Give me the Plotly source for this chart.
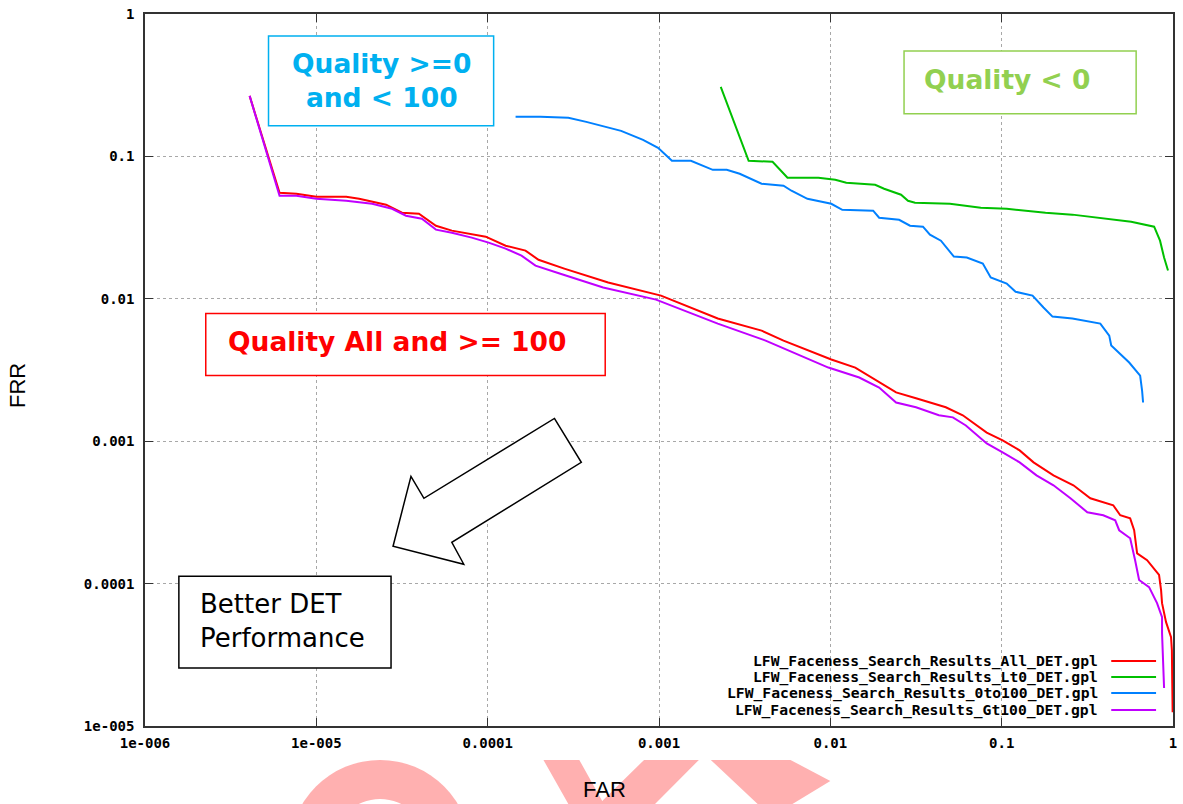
import plotly.graph_objects as go

# ---------------- data ----------------
far_all = [4.08e-6, 6.10e-6, 7.65e-6, 1.0e-5, 1.494e-5, 1.778e-5, 2.553e-5, 3.162e-5, 3.97e-5, 4.99e-5,
           6.18e-5, 9.74e-5, 1.273e-4, 1.663e-4, 1.98e-4, 2.80e-4, 5.05e-4, 1.027e-3, 2.203e-3, 3.97e-3,
           5.33e-3, 1.013e-2, 1.398e-2, 2.006e-2, 2.42e-2, 3.162e-2, 4.72e-2, 5.93e-2, 8.18e-2, 0.1013,
           0.1273, 0.1535, 0.2006, 0.2622, 0.3292, 0.448, 0.492, 0.5623, 0.5933, 0.6175,
           0.706, 0.829, 0.852, 0.863, 0.911, 0.974, 0.985, 0.99, 0.995]
frr_all = [0.266, 0.0556, 0.0547, 0.0521, 0.0521, 0.0504, 0.0458, 0.0402, 0.0396, 0.0326,
           0.0301, 0.0273, 0.0236, 0.0218, 0.0188, 0.0163, 0.0130, 0.01053, 7.27e-3, 5.98e-3,
           5.09e-3, 3.75e-3, 3.29e-3, 2.54e-3, 2.20e-3, 2.00e-3, 1.73e-3, 1.52e-3, 1.15e-3, 1.013e-3,
           8.62e-4, 7.10e-4, 5.76e-4, 4.90e-4, 3.97e-4, 3.55e-4, 3.02e-4, 2.87e-4, 2.37e-4, 1.63e-4,
           1.46e-4, 1.15e-4, 8.99e-5, 7.29e-5, 5.36e-5, 4.21e-5, 3.41e-5, 2.0e-5, 1.25e-5]

far_lt0 = [2.293e-3, 3.336e-3, 4.60e-3, 5.623e-3, 8.52e-3, 1.069e-2, 1.239e-2, 1.826e-2, 2.06e-2, 2.587e-2,
           2.84e-2, 3.12e-2, 4.99e-2, 7.55e-2, 0.107, 0.1803, 0.2587, 0.4134, 0.570, 0.776,
           0.840, 0.887, 0.935]
frr_lt0 = [0.308, 0.0931, 0.0917, 0.0708, 0.0708, 0.0685, 0.0653, 0.0632, 0.0593, 0.0538,
           0.0488, 0.0473, 0.0465, 0.0436, 0.0429, 0.0402, 0.0390, 0.0365, 0.0348, 0.0321,
           0.0256, 0.0195, 0.0158]

far_0to100 = [1.455e-4, 2.033e-4, 2.958e-4, 3.764e-4, 6.01e-4, 8.07e-4, 9.87e-4, 1.19e-3, 1.535e-3, 2.06e-3,
              2.485e-3, 2.958e-3, 3.97e-3, 5.33e-3, 5.93e-3, 7.35e-3, 1.013e-2, 1.174e-2, 1.778e-2, 1.927e-2,
              2.52e-2, 2.918e-2, 3.473e-2, 3.814e-2, 4.42e-2, 5.26e-2, 6.26e-2, 7.76e-2, 8.63e-2, 0.107,
              0.1206, 0.1514, 0.1754, 0.198, 0.2587, 0.3764, 0.4245, 0.436, 0.555, 0.643,
              0.660, 0.669]
frr_0to100 = [0.1895, 0.1895, 0.1865, 0.1748, 0.1512, 0.1307, 0.1149, 0.0931, 0.0931, 0.0805,
              0.0805, 0.0755, 0.0643, 0.0622, 0.0574, 0.0504, 0.0465, 0.0422, 0.0416, 0.0371,
              0.0359, 0.0326, 0.0321, 0.0282, 0.0256, 0.0198, 0.0195, 0.0177, 0.0141, 0.0128,
              0.0112, 0.01053, 8.68e-3, 7.50e-3, 7.27e-3, 6.70e-3, 5.52e-3, 4.70e-3, 3.57e-3, 2.89e-3,
              2.27e-3, 1.87e-3]

far_gt100 = [4.08e-6, 6.10e-6, 7.65e-6, 1.0e-5, 1.494e-5, 2.117e-5, 2.767e-5, 3.336e-5, 4.13e-5, 4.99e-5,
             6.18e-5, 8.07e-5, 1.013e-4, 1.273e-4, 1.576e-4, 1.901e-4, 2.657e-4, 4.72e-4, 9.61e-4, 2.203e-3,
             4.19e-3, 5.70e-3, 9.74e-3, 1.475e-2, 1.927e-2, 2.42e-2, 3.162e-2, 4.30e-2, 5.19e-2, 6.18e-2,
             8.18e-2, 0.1013, 0.1273, 0.1597, 0.2006, 0.252, 0.3162, 0.3917, 0.460, 0.485,
             0.5623, 0.601, 0.634, 0.725, 0.807, 0.863, 0.863, 0.887]
frr_gt100 = [0.266, 0.0529, 0.0529, 0.0504, 0.0488, 0.0465, 0.0429, 0.0383, 0.0365, 0.0306,
             0.0291, 0.0269, 0.0248, 0.0225, 0.0201, 0.0171, 0.0150, 0.0120, 9.87e-3, 6.70e-3,
             5.09e-3, 4.33e-3, 3.29e-3, 2.80e-3, 2.38e-3, 1.87e-3, 1.73e-3, 1.52e-3, 1.47e-3, 1.29e-3,
             9.65e-4, 8.35e-4, 7.10e-4, 5.76e-4, 4.90e-4, 3.97e-4, 3.17e-4, 3.02e-4, 2.78e-4, 2.37e-4,
             2.08e-4, 1.46e-4, 1.06e-4, 9.44e-5, 7.29e-5, 5.81e-5, 4.49e-5, 1.85e-5]

series_names = ["LFW_Faceness_Search_Results_All_DET.gpl",
                "LFW_Faceness_Search_Results_Lt0_DET.gpl",
                "LFW_Faceness_Search_Results_0to100_DET.gpl",
                "LFW_Faceness_Search_Results_Gt100_DET.gpl"]
series_colors = ["#ff0000", "#00c000", "#0080ff", "#c000ff"]

x_tickvals = [1e-6, 1e-5, 1e-4, 1e-3, 1e-2, 1e-1, 1]
x_ticktext = ["1e-006", "1e-005", "0.0001", "0.001", "0.01", "0.1", "1"]
y_tickvals = [1e-5, 1e-4, 1e-3, 1e-2, 1e-1, 1]
y_ticktext = ["1e-005", "0.0001", "0.001", "0.01", "0.1", "1"]

# ---------------- layout helpers ----------------
W, H = 1183, 804
PLOT_L, PLOT_R, PLOT_T, PLOT_B = 145, 1177, 13, 726
PW, PH = PLOT_R - PLOT_L, PLOT_B - PLOT_T


def px(x):
    return (x - PLOT_L) / PW


def py(y):
    return (PLOT_B - y) / PH


fig = go.Figure()
series = [(far_all, frr_all), (far_lt0, frr_lt0), (far_0to100, frr_0to100), (far_gt100, frr_gt100)]
for (xs, ys), name, col in zip(series, series_names, series_colors):
    fig.add_trace(go.Scatter(x=xs, y=ys, mode="lines", name=name,
                             line=dict(color=col, width=2), showlegend=False))

tickfont = dict(family="DejaVu Sans Mono", size=14, color="#000000", weight="bold")
axis_common = dict(type="log", showgrid=True, gridcolor="#a8a8a8", gridwidth=1, griddash="dot",
                   showline=True, linecolor="#333333", linewidth=1.5, mirror="ticks",
                   ticks="inside", ticklen=8, tickcolor="#333333", tickwidth=1.2,
                   tickfont=tickfont, zeroline=False, ticklabeloverflow="allow")

fig.update_xaxes(range=[-6, 0], tickvals=x_tickvals, ticktext=x_ticktext,
                 ticklabelstandoff=3, **axis_common)
fig.update_yaxes(range=[-5, 0], tickvals=y_tickvals, ticktext=y_ticktext,
                 ticklabelstandoff=6, **axis_common)

shapes = []
annotations = []

# watermark pieces below the chart
pink = "#ffb0b0"
shapes.append(dict(type="circle", xref="paper", yref="paper", layer="below",
                   x0=px(381 - 91), x1=px(381 + 91), y0=py(851 + 91), y1=py(760),
                   fillcolor=pink, line=dict(width=0)))
shapes.append(dict(type="circle", xref="paper", yref="paper", layer="below",
                   x0=px(381 - 47), x1=px(381 + 47), y0=py(846 + 47), y1=py(799),
                   fillcolor="#ffffff", line=dict(width=0)))


def poly(points):
    return "M " + " L ".join(f"{px(a):.5f},{py(b):.5f}" for a, b in points) + " Z"


shapes.append(dict(type="path", xref="paper", yref="paper", layer="below",
                   path=poly([(545, 760), (581, 760), (604, 801), (646, 760), (701, 760),
                              (657, 804), (570, 804)]),
                   fillcolor=pink, line=dict(width=0)))
shapes.append(dict(type="path", xref="paper", yref="paper", layer="below",
                   path=poly([(713, 760), (793, 760), (833, 781), (795, 804), (760, 804)]),
                   fillcolor=pink, line=dict(width=0)))

# text boxes
boxes = [((269, 35, 495, 125), "#00b0f0"),
         ((907, 50, 1140, 113), "#92d050"),
         ((206, 313, 607, 375), "#ff0000"),
         ((179, 576, 392, 668), "#000000")]
for (x0, y0, x1, y1), col in boxes:
    shapes.append(dict(type="rect", xref="paper", yref="paper", layer="above",
                       x0=px(x0), x1=px(x1), y0=py(y1), y1=py(y0),
                       fillcolor="rgba(255,255,255,1)", line=dict(color=col, width=1.5)))

qfont = dict(family="DejaVu Sans", size=26.5, weight="bold")
annotations.append(dict(text="Quality >=0<br>and < 100", x=px(382), y=py(80), xref="paper", yref="paper",
                        showarrow=False, xanchor="center", yanchor="middle", align="center",
                        font=dict(color="#00b0f0", **qfont)))
annotations.append(dict(text="Quality < 0", x=px(1010), y=py(79), xref="paper", yref="paper",
                        showarrow=False, xanchor="center", yanchor="middle",
                        font=dict(color="#92d050", **qfont)))
annotations.append(dict(text="Quality All and >= 100", x=px(226), y=py(341), xref="paper", yref="paper",
                        showarrow=False, xanchor="left", yanchor="middle",
                        font=dict(color="#ff0000", **qfont)))
annotations.append(dict(text="Better DET<br>Performance", x=px(198), y=py(621), xref="paper", yref="paper",
                        showarrow=False, xanchor="left", yanchor="middle", align="left",
                        font=dict(family="DejaVu Sans", size=26, color="#000000")))

# arrow outline
shapes.append(dict(type="path", xref="paper", yref="paper", layer="above",
                   path=poly([(556, 418), (583, 462), (453, 542), (465, 564), (394, 546),
                              (412, 476), (425, 498)]),
                   fillcolor="#ffffff", line=dict(color="#000000", width=1.5)))

# custom legend (text then line sample, gnuplot style)
leg_y = [661, 677, 693, 710]
for name, col, yy in zip(series_names, series_colors, leg_y):
    annotations.append(dict(text=name, x=px(1104), y=py(yy), xref="paper", yref="paper",
                            showarrow=False, xanchor="right", yanchor="middle",
                            font=dict(family="DejaVu Sans Mono", size=14.7, color="#000000", weight="bold")))
    shapes.append(dict(type="line", xref="paper", yref="paper", layer="above",
                       x0=px(1115), x1=px(1160), y0=py(yy), y1=py(yy),
                       line=dict(color=col, width=2)))

# axis titles
annotations.append(dict(text="FAR", x=px(606), y=py(790), xref="paper", yref="paper",
                        showarrow=False, xanchor="center", yanchor="middle",
                        font=dict(family="Liberation Sans", size=22, color="#000000")))
annotations.append(dict(text="FRR", x=px(17), y=py(385), xref="paper", yref="paper",
                        showarrow=False, xanchor="center", yanchor="middle", textangle=-90,
                        font=dict(family="Liberation Sans", size=22, color="#000000")))

fig.update_layout(width=W, height=H,
                  margin=dict(l=PLOT_L, r=W - PLOT_R, t=PLOT_T, b=H - PLOT_B),
                  paper_bgcolor="#ffffff", plot_bgcolor="#ffffff",
                  shapes=shapes, annotations=annotations, showlegend=False)

# remove the browser's default 8px page margin so the figure fills the window exactly
fig.write_html("out.html", config={"displayModeBar": False},
               post_script="document.body.style.margin='0';document.body.style.overflow='hidden';")
